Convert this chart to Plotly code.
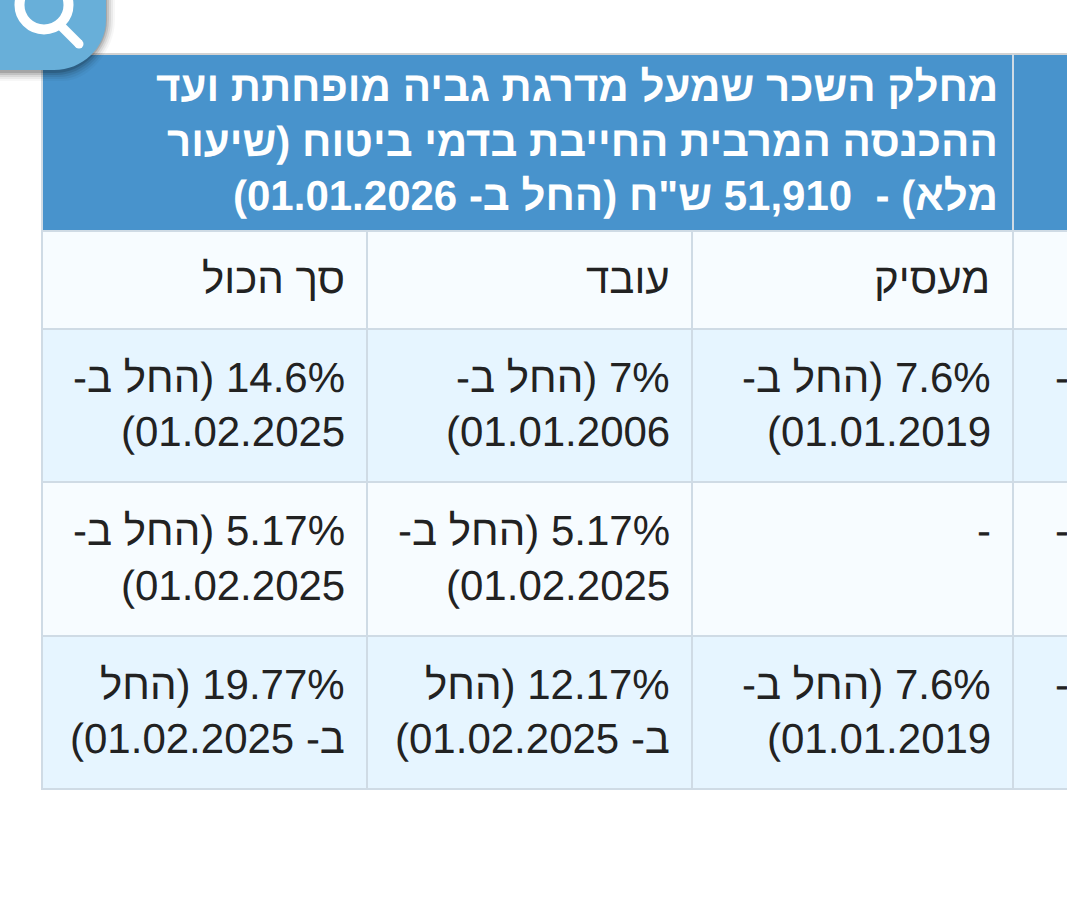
import plotly.graph_objects as go

# table text, columns listed left to right, one entry per written line
top_header = ['מחלק השכר שמעל מדרגת גביה מופחתת ועד',
              'ההכנסה המרבית החייבת בדמי ביטוח (שיעור',
              'מלא) -  51,910 ש"ח (החל ב- 01.01.2026)']
sub_header = ['סך הכול', 'עובד', 'מעסיק', '']
col_total = [['14.6% (החל ב-', '01.02.2025)'], ['5.17% (החל ב-', '01.02.2025)'], ['19.77% (החל', 'ב- 01.02.2025)']]
col_worker = [['7% (החל ב-', '01.01.2006)'], ['5.17% (החל ב-', '01.02.2025)'], ['12.17% (החל', 'ב- 01.02.2025)']]
col_employer = [['7.6% (החל ב-', '01.01.2019)'], ['-', ''], ['7.6% (החל ב-', '01.01.2019)']]
col_cut = [['-', ''], ['-', ''], ['-', '']]

W, H = 1067, 913
COL_EDGES = [42, 367, 692, 1013, 1090]
ROW_EDGES = [54, 231, 329, 482, 636, 789]
TEXT_RIGHT = [346, 671, 992, 1070]
SUB_RIGHT = [346, 671, 991, 1070]
HEAD_RIGHT = 999
LINE_STEP = 54.8
FONT = 'Liberation Sans'
SIZE = 42
BLUE = '#4893cc'
LINE = '#cfdbe5'
ROW_A = '#e6f5ff'
ROW_B = '#f7fcff'
INK = '#222222'


def rect(x0, y0, x1, y1, color):
    return dict(type='rect', x0=x0, y0=y0, x1=x1, y1=y1, fillcolor=color, line_width=0, layer='below')


def hline(y, color=LINE):
    return dict(type='line', x0=COL_EDGES[0] - 1, x1=W, y0=y, y1=y, line=dict(color=color, width=2), layer='below')


def vline(x, y0, y1):
    return dict(type='line', x0=x, x1=x, y0=y0, y1=y1, line=dict(color=LINE, width=2), layer='below')


def text_lines(lines, right, center, color=INK, bold=False):
    # each line gets its own annotation, the embedding marks keep it right to left
    out = []
    for i, line in enumerate(lines):
        if not line:
            continue
        y = center + (i - (len(lines) - 1) / 2) * LINE_STEP
        out.append(dict(text='\u202b' + line + '\u202c', x=min(right, W), xshift=max(right - W, 0), y=y,
                        xanchor='right', yanchor='middle', showarrow=False, borderpad=0,
                        font=dict(family=FONT, size=SIZE, color=color, weight=700 if bold else 400)))
    return out


shapes = []
annotations = []

# header band
shapes.append(rect(COL_EDGES[0], ROW_EDGES[0], W, ROW_EDGES[1], BLUE))
annotations += text_lines(top_header, HEAD_RIGHT, (ROW_EDGES[0] + ROW_EDGES[1]) / 2 - 1.5, 'white', True)

# second header row
shapes.append(rect(COL_EDGES[0], ROW_EDGES[1], W, ROW_EDGES[2], ROW_B))
sub_center = (ROW_EDGES[1] + ROW_EDGES[2]) / 2 - 2
for label, right in zip(sub_header, SUB_RIGHT):
    annotations += text_lines([label], right, sub_center)

# body rows
columns = [col_total, col_worker, col_employer, col_cut]
for r in range(3):
    top, bottom = ROW_EDGES[r + 2], ROW_EDGES[r + 3]
    shapes.append(rect(COL_EDGES[0], top, W, bottom, ROW_A if r % 2 == 0 else ROW_B))
    for column, right in zip(columns, TEXT_RIGHT):
        annotations += text_lines(column[r], right, (top + bottom) / 2 - 1)

# grid
shapes.append(hline(ROW_EDGES[0], '#d2d2d2'))
for y in ROW_EDGES[1:]:
    shapes.append(hline(y))
shapes.append(vline(COL_EDGES[0], ROW_EDGES[0], ROW_EDGES[-1]))
shapes.append(vline(COL_EDGES[3], ROW_EDGES[0], ROW_EDGES[-1]))
for x in COL_EDGES[1:3]:
    shapes.append(vline(x, ROW_EDGES[1], ROW_EDGES[-1]))

# search badge in the top left corner
for grow, alpha in [(9, 0.03), (7, 0.05), (5, 0.07), (3, 0.1), (1, 0.14)]:
    r, b = 106 + grow, 72 + grow
    shapes.append(dict(type='path', line_width=0, fillcolor=f'rgba(0,0,0,{alpha})',
                       path=f'M 0 0 L {r} 0 L {r} 20 C {r} 50 {r - 26} {b} {r - 52} {b} L 0 {b} Z'))
shapes.append(dict(type='path', line_width=0, fillcolor='#68afd9',
                   path='M 0 0 L 106 0 L 106 20 C 106 48 82 70 54 70 L 0 70 Z'))
shapes.append(dict(type='circle', line=dict(color='white', width=10), x0=19.5, x1=68.5, y0=-19.5, y1=29.5))
shapes.append(dict(type='line', line=dict(color='white', width=9), x0=62, y0=27, x1=79, y1=44))
shapes.append(dict(type='circle', line_width=0, fillcolor='white', x0=74.5, x1=83.5, y0=39.5, y1=48.5))

fig = go.Figure()
fig.update_layout(width=W, height=H, margin=dict(l=0, r=0, t=0, b=0),
                  paper_bgcolor='white', plot_bgcolor='white', showlegend=False,
                  shapes=shapes, annotations=annotations,
                  xaxis=dict(range=[0, W], visible=False),
                  yaxis=dict(range=[H, 0], visible=False))

page_js = """
document.body.style.margin='0';
document.body.style.overflow='hidden';
var st=document.createElement('style');
st.textContent='svg text{text-rendering:geometricPrecision}';
document.head.appendChild(st);
"""
fig.write_html("out.html", config=dict(displayModeBar=False), post_script=page_js)
